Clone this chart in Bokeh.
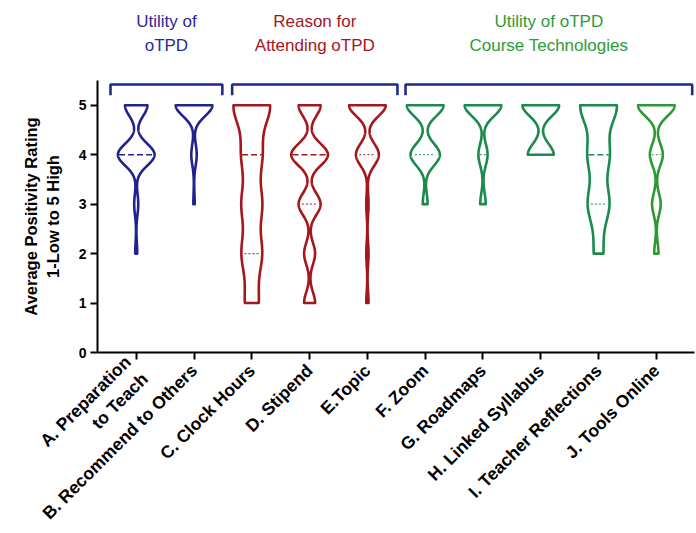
import numpy as np
from math import pi
from bokeh.plotting import figure
from bokeh.layouts import column
from bokeh.models import Range1d, FixedTicker
from bokeh.embed import file_html
from bokeh.resources import INLINE
from bokeh.core.properties import value

# ---------------- data ----------------
categories = ["A. Preparation\nto Teach", "B. Recommend to Others", "C. Clock Hours",
              "D. Stipend", "E.Topic", "F. Zoom", "G. Roadmaps", "H. Linked Syllabus",
              "I. Teacher Reflections", "J. Tools Online"]
ratings = [1, 2, 3, 4, 5]
# number of responses at rating 1..5
counts_A = [0, 1, 2, 18, 11]
counts_B = [0, 0, 1, 4, 27]
counts_C = [4, 6, 6, 6, 11]
counts_D = [3, 3, 6, 10, 6]
counts_E = [1, 1, 1, 10, 16]
counts_F = [0, 0, 2, 12, 15]
counts_G = [0, 0, 3, 5, 20]
counts_H = [0, 0, 0, 12, 17]
counts_I = [0, 3, 7, 7, 12]
counts_J = [0, 2, 4, 6, 17]
all_counts = [counts_A, counts_B, counts_C, counts_D, counts_E,
              counts_F, counts_G, counts_H, counts_I, counts_J]
# kernel bandwidth (rating units) per violin
smoothing = [0.22, 0.22, 0.40, 0.22, 0.22, 0.22, 0.22, 0.22, 0.38, 0.22]

group_labels = ["Utility of\noTPD", "Reason for\nAttending oTPD",
                "Utility of oTPD\nCourse Technologies"]
group_members = [[0, 1], [2, 3, 4], [5, 6, 7, 8, 9]]
y_ticks = [0, 1, 2, 3, 4, 5]

# ---------------- style ----------------
BLUE = "#22228f"
RED = "#a3171d"
GREEN = "#1c8a4c"
GREEN2 = "#2c9a34"
colors = [BLUE, BLUE, RED, RED, RED, GREEN, GREEN, GREEN, GREEN, GREEN2]
group_colors = ["#2a2a96", "#a3171d", "#2e9a3a"]
BRACKET = "#1f2a8f"
FONT = "Liberation Sans"
HALF = 0.317  # max half-width of a violin (x units)
W = 695
x_range = Range1d(-0.67, 9.66)

# ---------------- header with group names ----------------
head = figure(width=W, height=80, output_backend="svg", toolbar_location=None,
              x_range=x_range, y_range=Range1d(0, 80),
              x_axis_location=None, y_axis_location=None,
              min_border_left=97, min_border_right=1, min_border_top=0,
              min_border_bottom=0)
head.outline_line_color = None
head.xgrid.visible = False
head.ygrid.visible = False

bracket_spans = [(-0.445, 1.49), (1.66, 4.52), (4.66, 9.62)]
label_x = [(a + b) / 2 for a, b in bracket_spans]
head.text(x=label_x, y=[47, 47, 47], text=group_labels, text_color=group_colors,
          text_align="center", text_baseline="middle", text_font=value(FONT),
          text_font_size=value("17px"), text_line_height=1.22)

# ---------------- main violin chart ----------------
p = figure(width=W, height=453, output_backend="svg", toolbar_location=None,
           x_range=x_range, y_range=Range1d(0, 5.5),
           min_border_left=97, min_border_right=1, min_border_top=0,
           min_border_bottom=176)
p.outline_line_color = None
p.xgrid.visible = False
p.ygrid.visible = False

for i, (cnt, h) in enumerate(zip(all_counts, smoothing)):
    vals = np.repeat(ratings, cnt)
    lo, hi = vals.min(), vals.max()
    ys = np.linspace(lo, hi, 400)
    dens = np.zeros_like(ys)
    for r, c in zip(ratings, cnt):
        dens += c * np.exp(-(ys - r) ** 2 / (2 * h * h))
    scale = HALF / dens.max()
    half = dens * scale
    xs = np.concatenate([i + half, (i - half)[::-1]])
    yy = np.concatenate([ys, ys[::-1]])
    p.patch(xs, yy, fill_color=None, line_color=colors[i], line_width=2.6,
            line_join="round")

    q1, med, q3 = np.percentile(vals, [25, 50, 75])

    def width_at(y):
        d = sum(c * np.exp(-(y - r) ** 2 / (2 * h * h)) for r, c in zip(ratings, cnt))
        return d * scale

    if lo < med < hi:
        w = width_at(med) - 0.02
        p.line([i - w, i + w], [med, med], line_color=colors[i], line_width=1.4,
               line_dash="6 3")
    for q in (q1, q3):
        if lo < q < hi and q != med:
            w = width_at(q) * 0.7
            p.line([i - w, i + w], [q, q], line_color=colors[i], line_width=1.3,
                   line_dash="2 2", line_alpha=0.8)

# group brackets
for (x0, x1) in bracket_spans:
    p.line([x0, x0, x1, x1], [5.2, 5.42, 5.42, 5.2], line_color=BRACKET,
           line_width=2.6)

# axes
xa = p.xaxis[0]
xa.ticker = FixedTicker(ticks=list(range(len(categories))))
xa.major_label_overrides = {i: c for i, c in enumerate(categories)}
xa.major_label_orientation = pi / 4
xa.major_label_text_font = FONT
xa.major_label_text_font_style = "bold"
xa.major_label_text_font_size = "17.5px"
xa.major_label_text_color = "black"
xa.minor_tick_line_color = None
xa.major_label_standoff = 8

ya = p.yaxis[0]
ya.ticker = FixedTicker(ticks=y_ticks)
ya.major_label_text_font = FONT
ya.major_label_text_font_style = "bold"
ya.major_label_text_font_size = "14px"
ya.major_label_text_color = "black"
ya.minor_tick_line_color = None
ya.major_label_standoff = 4
ya.axis_label = "Average Positivity Rating\n1-Low to 5 High"
ya.axis_label_text_font = FONT
ya.axis_label_text_font_style = "bold"
ya.axis_label_text_font_size = "16.5px"
ya.axis_label_text_color = "black"
ya.axis_label_standoff = 14

for ax in (xa, ya):
    ax.axis_line_width = 2
    ax.axis_line_color = "black"
    ax.major_tick_line_width = 2
    ax.major_tick_line_color = "black"
    ax.major_tick_out = 7
    ax.major_tick_in = 0

layout = column(head, p, spacing=0)
open("out.html", "w").write(file_html(layout, INLINE))
